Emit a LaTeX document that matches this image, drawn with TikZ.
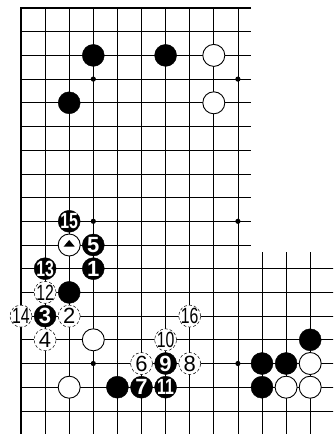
\documentclass[tikz,border=0pt]{standalone}
\usepackage{fontspec}
\setmainfont{Liberation Sans}
\newcommand\nar[1]{\scalebox{0.72}[1]{#1}}
\begin{document}
\begin{tikzpicture}[x=24.1pt,y=-23.7pt,
  gridline/.style={line width=0.7pt},
  edgeline/.style={line width=2.2pt},
  stone/.style={circle, minimum size=22pt, inner sep=0pt},
  bstone/.style={stone, fill=black, draw=black},
  wstone/.style={stone, fill=white, draw=black, line width=0.9pt},
  bnum/.style={bstone, label={[inner sep=0pt, text=white, font=\fontsize{22}{22}\selectfont\bfseries]center:#1}},
  wnum/.style={stone, fill=white, draw=black, line width=0.5pt, densely dashed,
    label={[inner sep=0pt, font=\fontsize{22}{22}\selectfont]center:#1}},
  hoshi/.style={fill=black}]
\useasboundingbox (-21pt,8pt) rectangle (312pt,-426pt);
\clip (-21pt,8pt) rectangle (312pt,-426pt);
% grid
\foreach \r in {1,...,10} \draw[gridline] (0,\r) -- (9.55,\r);
\foreach \r in {11,...,17} \draw[gridline] (0,\r) -- (13.5,\r);
\foreach \c in {1,...,9} \draw[gridline] (\c,0) -- (\c,18);
\foreach \c in {10,...,13} \draw[gridline] (\c,10.3) -- (\c,18);
\draw[edgeline] (9.55,0) -- (0,0) -- (0,18.5);
\draw[edgeline] (0,18) -- (13.5,18);
% star points
\foreach \c/\r in {3/3,9/3,3/9,9/9,3/15,9/15} \fill[hoshi] (\c,\r) circle (2.6pt);
% unnumbered black stones
\node[bstone] (ba) at (3,2) {};
\node[bstone] (bb) at (6,2) {};
\node[bstone] (bc) at (2,4) {};
\node[bstone] (bd) at (2,12) {};
\node[bstone] (be) at (4,16) {};
\node[bstone] (bf) at (12,14) {};
\node[bstone] (bg) at (10,15) {};
\node[bstone] (bh) at (11,15) {};
\node[bstone] (bi) at (10,16) {};
% unnumbered white stones
\node[wstone] (wa) at (8,2) {};
\node[wstone] (wb) at (8,4) {};
\node[wstone] (wc) at (3,14) {};
\node[wstone] (wd) at (2,16) {};
\node[wstone] (we) at (12,15) {};
\node[wstone] (wf) at (11,16) {};
\node[wstone] (wg) at (12,16) {};
% marked white stone
\node[wstone] (wt) at (2,10) {};
\fill ([shift={(-5.5pt,-1.5pt)}]wt.center) -- ([shift={(5.5pt,-1.5pt)}]wt.center) -- ([shift={(0pt,5pt)}]wt.center) -- cycle;
% numbered black stones
\node[bnum=1] (m1) at (3,11) {};
\node[bnum=3] (m3) at (1,13) {};
\node[bnum=5] (m5) at (3,10) {};
\node[bnum=7] (m7) at (5,16) {};
\node[bnum=9] (m9) at (6,15) {};
\node[bnum=\nar{11}] (m11) at (6,16) {};
\node[bnum=\nar{13}] (m13) at (1,11) {};
\node[bnum=\nar{15}] (m15) at (2,9) {};
% numbered white stones
\node[wnum=2] (m2) at (2,13) {};
\node[wnum=4] (m4) at (1,14) {};
\node[wnum=6] (m6) at (5,15) {};
\node[wnum=8] (m8) at (7,15) {};
\node[wnum=\nar{10}] (m10) at (6,14) {};
\node[wnum=\nar{12}] (m12) at (1,12) {};
\node[wnum=\nar{14}] (m14) at (0,13) {};
\node[wnum=\nar{16}] (m16) at (7,13) {};
\end{tikzpicture}
\end{document}
